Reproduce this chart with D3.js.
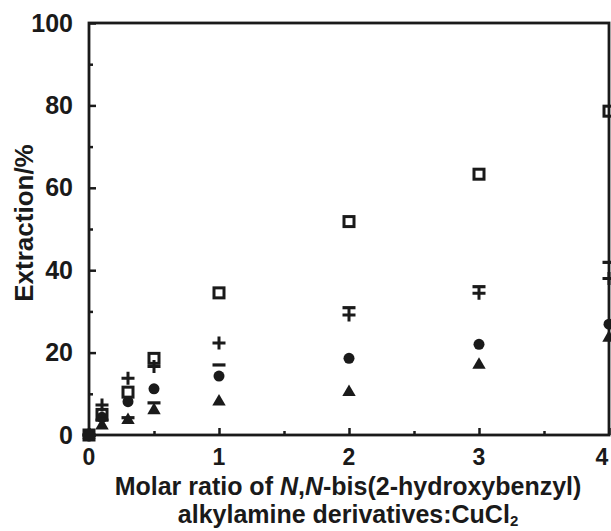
<!DOCTYPE html>
<html>
<head>
<meta charset="utf-8">
<script src="https://cdn.jsdelivr.net/npm/d3@7"></script>
<style>
  body { margin: 0; background: #fff; }
  text { font-family: "Liberation Sans", Arial, sans-serif; font-weight: bold; fill: #1a1a1a; }
</style>
</head>
<body>
<svg id="chart"></svg>
<script>
// molar ratio (x) and extraction % for each marker series
var ratios = [0, 0.1, 0.3, 0.5, 1, 2, 3, 4];
var squareVals   = [0, 5.0, 10.4, 18.6, 34.5, 51.8, 63.3, 78.6];
var plusVals     = [0, 7.3, 13.8, 16.6, 22.3, 29.1, 34.4, 38.0];
var minusVals    = [0, 3.6, 4.2, 7.8, 17.0, 30.9, 36.0, 41.9];
var circleVals   = [0, 4.3, 8.1, 11.2, 14.3, 18.6, 22.0, 26.9];
var triangleVals = [0, 2.3, 3.6, 6.0, 8.1, 10.4, 17.0, 23.6];

var xTicks = [0, 1, 2, 3, 4];
var yTicks = [0, 20, 40, 60, 80, 100];

var W = 611, H = 531;
var margin = {top: 23, right: 2, bottom: 96, left: 89},
    width = W - margin.left - margin.right,
    height = H - margin.top - margin.bottom;

var svg = d3.select("#chart").attr("width", W).attr("height", H);
var g = svg.append("g").attr("transform", "translate(" + margin.left + "," + margin.top + ")");

var x = d3.scaleLinear().domain([0, 4]).range([0, width]);
var y = d3.scaleLinear().domain([0, 100]).range([height, 0]);

// frame
g.append("rect").attr("width", width).attr("height", height)
  .attr("fill", "none").attr("stroke", "#1a1a1a").attr("stroke-width", 2.8);

// inward ticks, major + minor
var yAxis = d3.axisRight(y).tickValues(yTicks).tickSize(7).tickFormat("");
var yMinor = d3.axisRight(y).tickValues(d3.range(10, 100, 20)).tickSize(4).tickFormat("");
var xAxis = d3.axisTop(x).tickValues(xTicks).tickSize(7).tickFormat("");
var xMinor = d3.axisTop(x).tickValues(d3.range(0.5, 4, 1)).tickSize(4).tickFormat("");

[yAxis, yMinor].forEach(function(a) {
  g.append("g").call(a).call(function(s) {
    s.select(".domain").remove();
    s.selectAll("line").attr("stroke", "#1a1a1a").attr("stroke-width", 2.5);
  });
});
[xAxis, xMinor].forEach(function(a) {
  g.append("g").attr("transform", "translate(0," + height + ")").call(a).call(function(s) {
    s.select(".domain").remove();
    s.selectAll("line").attr("stroke", "#1a1a1a").attr("stroke-width", 2.5);
  });
});

// tick labels
g.selectAll(".ylab").data(yTicks).enter().append("text")
  .attr("x", -16).attr("y", function(d) { return y(d); })
  .attr("dy", "0.34em").attr("text-anchor", "end")
  .style("font-size", "25px").text(function(d) { return d; });

g.selectAll(".xlab").data(xTicks).enter().append("text")
  .attr("x", function(d) { return x(d) - (d == 4 ? 7 : 0); }).attr("y", height + 30)
  .attr("text-anchor", "middle")
  .style("font-size", "23px").text(function(d) { return d; });

// axis titles
svg.append("text")
  .attr("transform", "translate(33," + (margin.top + 200) + ") rotate(-90)")
  .attr("text-anchor", "middle").style("font-size", "26px").text("Extraction/%");

var t1 = svg.append("text").attr("x", 348).attr("y", 495)
  .attr("text-anchor", "middle").style("font-size", "25px");
t1.append("tspan").text("Molar ratio of ");
t1.append("tspan").style("font-style", "italic").text("N");
t1.append("tspan").text(",");
t1.append("tspan").style("font-style", "italic").text("N");
t1.append("tspan").text("-bis(2-hydroxybenzyl)");

var t2 = svg.append("text").attr("x", 348).attr("y", 523)
  .attr("text-anchor", "middle").style("font-size", "25px");
t2.append("tspan").text("alkylamine derivatives:CuCl");
t2.append("tspan").attr("dy", 3).style("font-size", "15px").text("2");

// markers
function pts(vals) { return ratios.map(function(r, i) { return {x: r, y: vals[i]}; }); }
var ink = "#1a1a1a";

g.selectAll(".tri").data(pts(triangleVals)).enter().append("path")
  .attr("transform", function(d) { return "translate(" + x(d.x) + "," + y(d.y) + ")"; })
  .attr("d", d3.symbol(d3.symbolTriangle, 78)).attr("fill", ink);

g.selectAll(".circ").data(pts(circleVals)).enter().append("circle")
  .attr("cx", function(d) { return x(d.x); }).attr("cy", function(d) { return y(d.y); })
  .attr("r", 5.5).attr("fill", ink);

g.selectAll(".minus").data(pts(minusVals)).enter().append("line")
  .attr("x1", function(d) { return x(d.x) - 6.5; }).attr("x2", function(d) { return x(d.x) + 6.5; })
  .attr("y1", function(d) { return y(d.y); }).attr("y2", function(d) { return y(d.y); })
  .attr("stroke", ink).attr("stroke-width", 3.2);

g.selectAll(".plus").data(pts(plusVals)).enter().append("path")
  .attr("transform", function(d) { return "translate(" + x(d.x) + "," + y(d.y) + ")"; })
  .attr("d", "M-6.5,0H6.5M0,-6.5V6.5").attr("stroke", ink).attr("stroke-width", 3);

g.selectAll(".sq").data(pts(squareVals)).enter().append("rect")
  .attr("x", function(d) { return x(d.x) - 5; }).attr("y", function(d) { return y(d.y) - 5; })
  .attr("width", 10).attr("height", 10)
  .attr("fill", function(d) { return d.x == 0 ? ink : "none"; })
  .attr("stroke", ink).attr("stroke-width", 3);
</script>
</body>
</html>
